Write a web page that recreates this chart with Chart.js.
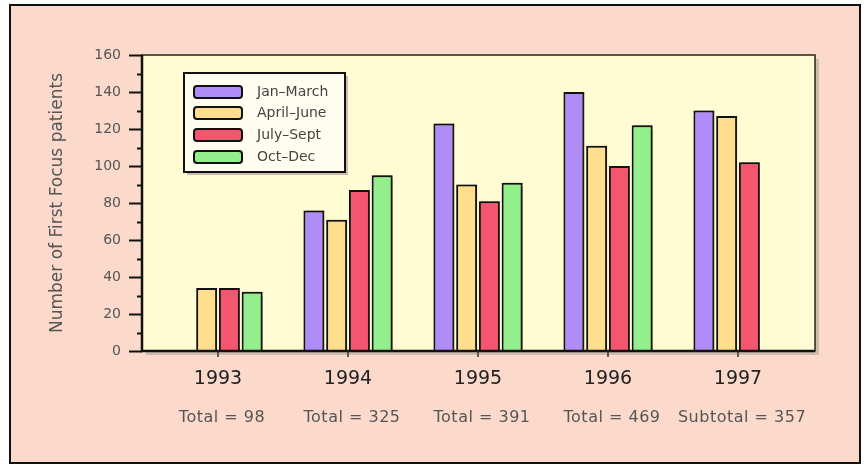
<!DOCTYPE html>
<html>
<head>
<meta charset="utf-8">
<script src="https://cdn.jsdelivr.net/npm/chart.js@4.4.0/dist/chart.umd.min.js"></script>
<style>
  html, body { margin: 0; padding: 0; background: #ffffff; }
  #wrap { width: 867px; height: 465px; }
</style>
</head>
<body>
<div id="wrap"><canvas id="firstFocusChart" width="867" height="465"></canvas></div>
<script>
// Data
const years = ['1993', '1994', '1995', '1996', '1997'];
const yearTotals = ['Total = 98', 'Total = 325', 'Total = 391', 'Total = 469', 'Subtotal = 357'];
const quarterNames = ['Jan\u2013March', 'April\u2013June', 'July\u2013Sept', 'Oct\u2013Dec'];
const janMarch = [null, 76, 123, 140, 130];
const aprilJune = [34, 71, 90, 111, 127];
const julySept = [34, 87, 81, 100, 102];
const octDec = [32, 95, 91, 122, null];
const yTicks = [0, 20, 40, 60, 80, 100, 120, 140, 160];

const quarterColors = ['#b08cf8', '#ffdf8e', '#f5566f', '#93ef8c'];
const fontFamily = '"DejaVu Sans", sans-serif';

// Background, framed plot, axis lines, tick marks, totals and legend
const decorations = {
    id: 'decorations',
    beforeDraw(chart) {
        const { ctx, chartArea: a } = chart;
        const L = a.left - 11, R = a.right + 12;
        ctx.save();
        ctx.fillStyle = '#ffffff';
        ctx.fillRect(0, 0, chart.width, chart.height);
        ctx.fillStyle = '#fbd9cb';
        ctx.fillRect(10, 5, 850, 458);
        ctx.strokeStyle = '#111';
        ctx.lineWidth = 2;
        ctx.strokeRect(10, 5, 850, 458);
        // plot panel with a soft shadow
        ctx.fillStyle = '#cdbcae';
        ctx.fillRect(L + 4, a.top + 4, R - L, a.bottom - a.top);
        ctx.fillStyle = '#fffbd3';
        ctx.fillRect(L, a.top, R - L, a.bottom - a.top);
        ctx.strokeStyle = '#222';
        ctx.lineWidth = 1.5;
        ctx.strokeRect(L, a.top, R - L, a.bottom - a.top);
        ctx.restore();
    },
    beforeDatasetsDraw(chart) {
        const ctx = chart.ctx;
        ctx.save();
        ctx.shadowColor = 'rgba(40, 30, 20, 0.55)';
        ctx.shadowOffsetX = 2;
        ctx.shadowOffsetY = 0;
        ctx.shadowBlur = 1;
    },
    afterDatasetsDraw(chart) {
        const { ctx, chartArea: a, scales } = chart;
        ctx.restore();
        const L = a.left - 11, R = a.right + 12;
        ctx.save();
        ctx.strokeStyle = '#111';
        ctx.lineWidth = 2.5;
        ctx.beginPath();
        ctx.moveTo(L, a.top);
        ctx.lineTo(L, a.bottom);
        ctx.lineTo(R, a.bottom);
        ctx.stroke();
        // y tick marks, major and minor
        ctx.lineWidth = 2;
        for (let v = 0; v <= 160; v += 10) {
            const y = Math.round(scales.y.getPixelForValue(v)) + 0.5;
            const len = v % 20 === 0 ? 13 : 5;
            ctx.beginPath();
            ctx.moveTo(L - len, y);
            ctx.lineTo(L, y);
            ctx.stroke();
        }
        // x tick marks
        ctx.strokeStyle = '#333';
        ctx.lineWidth = 1.5;
        years.forEach((yr, i) => {
            const x = scales.x.getPixelForValue(i);
            ctx.beginPath();
            ctx.moveTo(x, a.bottom);
            ctx.lineTo(x, a.bottom + 6);
            ctx.stroke();
        });
        ctx.restore();
    },
    afterDraw(chart) {
        const { ctx, scales } = chart;
        ctx.save();
        // totals under each year
        ctx.fillStyle = '#555';
        ctx.font = '16px ' + fontFamily;
        ctx.letterSpacing = '0.5px';
        ctx.textAlign = 'center';
        ctx.textBaseline = 'middle';
        yearTotals.forEach((t, i) => {
            ctx.fillText(t, scales.x.getPixelForValue(i) + 4, 418);
        });
        // legend box
        const bx = 184, by = 73, bw = 161, bh = 99;
        ctx.fillStyle = '#cdbcae';
        ctx.fillRect(bx + 3, by + 3, bw, bh);
        ctx.fillStyle = '#fffdf0';
        ctx.fillRect(bx, by, bw, bh);
        ctx.strokeStyle = '#111';
        ctx.lineWidth = 2;
        ctx.strokeRect(bx, by, bw, bh);
        const rows = [92, 113, 135, 157];
        ctx.textAlign = 'left';
        ctx.font = '14px ' + fontFamily;
        ctx.letterSpacing = '0px';
        chart.data.datasets.forEach((ds, i) => {
            const cy = rows[i];
            ctx.fillStyle = ds.backgroundColor;
            ctx.beginPath();
            ctx.roundRect(194, cy - 6, 48, 12, 3);
            ctx.fill();
            ctx.lineWidth = 2;
            ctx.strokeStyle = '#111';
            ctx.stroke();
            ctx.fillStyle = '#444';
            ctx.fillText(ds.label, 257, cy);
        });
        ctx.restore();
    }
};

function barSet(label, values, color) {
    return {
        label: label,
        data: values,
        backgroundColor: color,
        borderColor: '#111',
        borderWidth: 2,
        barPercentage: 0.92,
        categoryPercentage: 0.7
    };
}

new Chart(document.getElementById('firstFocusChart').getContext('2d'), {
    type: 'bar',
    data: {
        labels: years,
        datasets: [
            barSet(quarterNames[0], janMarch, quarterColors[0]),
            barSet(quarterNames[1], aprilJune, quarterColors[1]),
            barSet(quarterNames[2], julySept, quarterColors[2]),
            barSet(quarterNames[3], octDec, quarterColors[3])
        ]
    },
    options: {
        responsive: false,
        animation: false,
        layout: { padding: { left: 43, top: 55, right: 64, bottom: 0 } },
        plugins: {
            legend: { display: false },
            tooltip: { enabled: false }
        },
        scales: {
            x: {
                offset: true,
                grid: { display: false, drawTicks: false },
                border: { display: false },
                ticks: {
                    color: '#222',
                    font: { family: fontFamily, size: 19 },
                    padding: 17
                },
                afterFit(scale) { scale.height = 114; }
            },
            y: {
                min: 0,
                max: 160,
                afterBuildTicks(scale) { scale.ticks = yTicks.map(v => ({ value: v })); },
                grid: { display: false, drawTicks: false },
                border: { display: false },
                ticks: {
                    color: '#555',
                    font: { family: fontFamily, size: 14 },
                    padding: 32
                },
                title: {
                    display: true,
                    text: 'Number of First Focus patients',
                    color: '#555',
                    font: { family: fontFamily, size: 17 }
                },
                afterFit(scale) { scale.width = 110; }
            }
        }
    },
    plugins: [decorations]
});
</script>
</body>
</html>
